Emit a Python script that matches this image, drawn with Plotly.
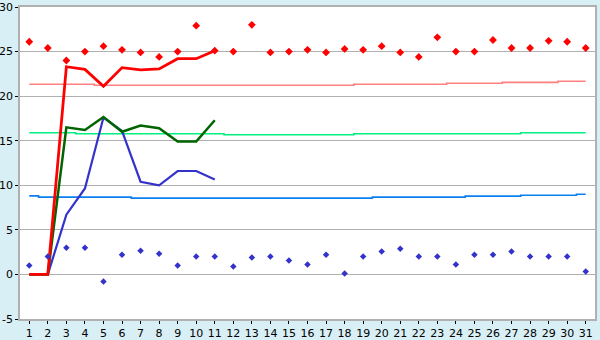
import plotly.graph_objects as go

days = list(range(1, 32))
y_ticks = [-5, 0, 5, 10, 15, 20, 25, 30]
y_tick_labels = ["-5", "0", "5", "10", "15", "20", "25", "30"]

# scatter points
high_pts = [26.1, 25.4, 24.0, 25.0, 25.6, 25.2, 24.9, 24.4, 25.0, 27.9,
            25.1, 25.0, 28.0, 24.9, 25.0, 25.2, 24.9, 25.3, 25.2, 25.6,
            24.9, 24.4, 26.6, 25.0, 25.0, 26.3, 25.4, 25.4, 26.2, 26.1, 25.4]
low_pts = [1.0, 2.0, 3.0, 3.0, -0.78, 2.2, 2.67, 2.33, 1.0, 2.0,
           2.0, 0.89, 1.89, 2.0, 1.56, 1.11, 2.2, 0.1, 2.0, 2.56,
           2.89, 2.0, 2.0, 1.11, 2.2, 2.2, 2.56, 2.0, 2.0, 2.0, 0.33]

# lines (first 11 days)
line_days = list(range(1, 12))
red_line = [0, 0, 23.3, 23.0, 21.1, 23.2, 22.95, 23.05, 24.2, 24.2, 25.1]
green_line = [0, 0, 16.5, 16.2, 17.65, 16.0, 16.7, 16.4, 14.9, 14.9, 17.3]
blue_line = [0, 0, 6.7, 9.65, 17.6, 16.1, 10.4, 10.0, 11.6, 11.6, 10.65]

# step averages
avg_high = [21.33]*4 + [21.22]*14 + [21.33]*5 + [21.44]*3 + [21.55]*3 + [21.67]*2
avg_mean = [15.89]*3 + [15.78]*8 + [15.67]*7 + [15.78]*9 + [15.89]*4
avg_low = [8.81] + [8.67]*5 + [8.56]*13 + [8.67]*5 + [8.78]*3 + [8.89]*3 + [9.0]

fig = go.Figure()

fig.add_trace(go.Scatter(x=days, y=avg_high, mode="lines", line=dict(color="#ff8080", width=1.6, shape="hvh"), hoverinfo="skip"))
fig.add_trace(go.Scatter(x=days, y=avg_mean, mode="lines", line=dict(color="#00f080", width=1.6, shape="hvh"), hoverinfo="skip"))
fig.add_trace(go.Scatter(x=days, y=avg_low, mode="lines", line=dict(color="#0a80f0", width=1.6, shape="hvh"), hoverinfo="skip"))

fig.add_trace(go.Scatter(x=line_days, y=blue_line, mode="lines", line=dict(color="#3333cc", width=2.2)))
fig.add_trace(go.Scatter(x=line_days, y=green_line, mode="lines", line=dict(color="#006400", width=2.5)))
fig.add_trace(go.Scatter(x=line_days, y=red_line, mode="lines", line=dict(color="#ff0000", width=2.8)))

fig.add_trace(go.Scatter(x=days, y=high_pts, mode="markers", marker=dict(symbol="diamond", size=6, color="#ff0000")))
fig.add_trace(go.Scatter(x=days, y=low_pts, mode="markers", marker=dict(symbol="diamond", size=5, color="#3333cc")))

fig.update_layout(
    width=600, height=340,
    margin=dict(l=20, r=5, t=7, b=21),
    paper_bgcolor="#d8eff5",
    plot_bgcolor="#ffffff",
    showlegend=False,
    font=dict(family="DejaVu Sans", size=11, color="#000000"),
)
fig.update_xaxes(
    range=[0.5, 31.5], tickmode="array", tickvals=days, ticktext=[str(d) for d in days],
    showgrid=False, zeroline=False, ticks="outside", ticklen=3, tickcolor="#000000",
    showline=True, linecolor="#b0b0b0", linewidth=1.5, mirror=True, automargin=False,
)
fig.update_yaxes(
    range=[-5, 30], tickmode="array", tickvals=y_ticks, ticktext=y_tick_labels,
    showgrid=True, gridcolor="#b0b0b0", gridwidth=1, zeroline=False,
    ticks="outside", ticklen=3, tickcolor="#000000",
    showline=True, linecolor="#b0b0b0", linewidth=1.5, mirror=True, automargin=False,
)

fig.write_html("out.html")
